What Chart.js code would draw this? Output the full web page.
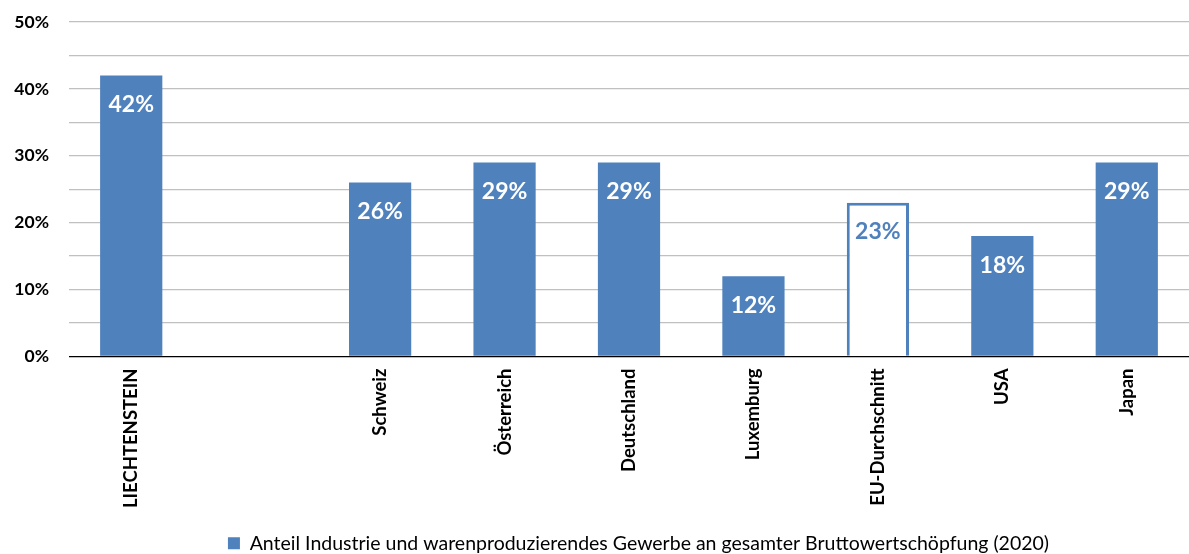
<!DOCTYPE html>
<html>
<head>
<meta charset="utf-8">
<script src="https://cdn.jsdelivr.net/npm/chart.js@4"></script>
<style>
  html, body { margin: 0; padding: 0; background: #fff; }
  #wrap { width: 1189px; height: 554px; position: relative; }
</style>
</head>
<body>
<div id="wrap"><canvas id="chart"></canvas></div>
<script>
"use strict";

// ── Data ───────────────────────────────────────────────────────────────────
const categories = ["LIECHTENSTEIN", "", "Schweiz", "Österreich", "Deutschland",
                    "Luxemburg", "EU-Durchschnitt", "USA", "Japan"];
const shareValues = [42, null, 26, 29, 29, 12, 23, 18, 29];
const seriesName = "Anteil Industrie und warenproduzierendes Gewerbe an gesamter Bruttowertschöpfung (2020)";
const yTicks = [0, 10, 20, 30, 40, 50];

// ── Styles ─────────────────────────────────────────────────────────────────
const BLUE = "#4F81BD";
const FONT = "Lato, 'Open Sans', sans-serif";
const isAverage = (label) => label === "EU-Durchschnitt";

// ── Value labels inside bars ───────────────────────────────────────────────
const valueLabels = {
  id: "valueLabels",
  afterDatasetsDraw(chart) {
    const { ctx } = chart;
    const meta = chart.getDatasetMeta(0);
    ctx.save();
    ctx.font = "bold 23px " + FONT;
    ctx.textAlign = "center";
    ctx.textBaseline = "middle";
    meta.data.forEach((bar, i) => {
      const v = shareValues[i];
      if (v == null) return;
      ctx.fillStyle = isAverage(categories[i]) ? BLUE : "#fff";
      ctx.fillText(v + "%", bar.x, bar.y + 29);
    });
    ctx.restore();
  },
};

// legend sits centred under the plot area, not the whole canvas
const legendShift = {
  id: "legendShift",
  afterLayout(chart) {
    chart.legend.left += 44;
    chart.legend.right += 44;
  },
};

new Chart(document.getElementById("chart"), {
  type: "bar",
  data: {
    labels: categories,
    datasets: [{
      label: seriesName,
      data: shareValues,
      backgroundColor: categories.map((c) => (isAverage(c) ? "#fff" : BLUE)),
      borderColor: BLUE,
      borderWidth: categories.map((c) => (isAverage(c) ? 3 : 0)),
      categoryPercentage: 1,
      barPercentage: 0.5,
    }],
  },
  options: {
    responsive: true,
    maintainAspectRatio: false,
    animation: false,
    layout: {
      padding: { top: 22, right: 0, left: 0, bottom: -9 },
    },
    scales: {
      x: {
        grid: { display: false, drawTicks: false },
        border: { color: "#000", width: 1 },
        ticks: {
          color: "#000",
          font: { family: FONT, size: 18.5, weight: "bold" },
          minRotation: 90,
          maxRotation: 90,
          padding: 12,
          autoSkip: false,
        },
        afterFit(scale) { scale.height = 175; },
      },
      y: {
        min: 0,
        max: 50,
        grid: {
          color: (c) => (c.tick && c.tick.value === 0 ? "#000" : "#c0c0c0"),
          lineWidth: 1.3,
          drawTicks: false,
        },
        border: { display: false },
        ticks: {
          stepSize: 5,
          color: "#000",
          padding: 20,
          // tiny line height keeps the top label from pushing the plot down
          font: { family: FONT, size: 17.5, weight: "bold", lineHeight: 0.1 },
          callback: (v) => (yTicks.includes(v) ? v + "%" : ""),
        },
        afterFit(scale) { scale.width = 69; },
      },
    },
    plugins: {
      legend: {
        position: "bottom",
        labels: {
          color: "#000",
          boxWidth: 12,
          boxHeight: 12,
          padding: 2,
          font: { family: FONT, size: 19.5 },
        },
      },
      tooltip: { enabled: false },
    },
  },
  plugins: [valueLabels, legendShift],
});
</script>
</body>
</html>
